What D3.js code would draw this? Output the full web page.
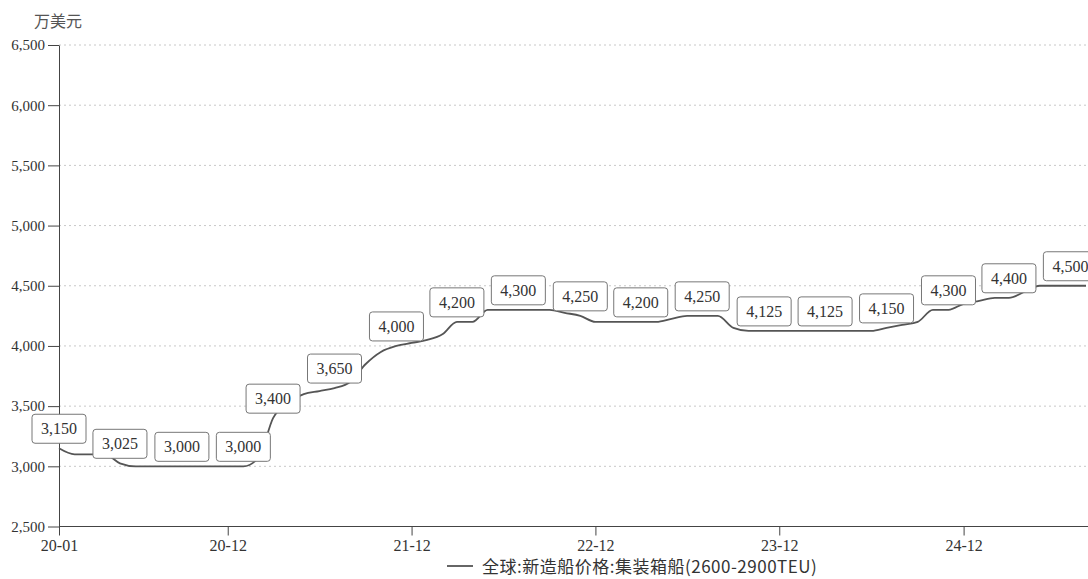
<!DOCTYPE html>
<html>
<head>
<meta charset="utf-8">
<script src="https://cdn.jsdelivr.net/npm/d3@7"></script>
<style>
  html, body { margin: 0; padding: 0; background: #fff; }
  svg { display: block; }
</style>
</head>
<body>
<svg id="chart" width="1088" height="579"></svg>
<script>
// Monthly new-build price, 2600-2900 TEU container ship (10k USD)
const months = [
  "2020-01","2020-02","2020-03","2020-04","2020-05","2020-06","2020-07","2020-08","2020-09","2020-10","2020-11","2020-12",
  "2021-01","2021-02","2021-03","2021-04","2021-05","2021-06","2021-07","2021-08","2021-09","2021-10","2021-11","2021-12",
  "2022-01","2022-02","2022-03","2022-04","2022-05","2022-06","2022-07","2022-08","2022-09","2022-10","2022-11","2022-12",
  "2023-01","2023-02","2023-03","2023-04","2023-05","2023-06","2023-07","2023-08","2023-09","2023-10","2023-11","2023-12",
  "2024-01","2024-02","2024-03","2024-04","2024-05","2024-06","2024-07","2024-08","2024-09","2024-10","2024-11","2024-12",
  "2025-01","2025-02","2025-03","2025-04","2025-05","2025-06","2025-07","2025-08"
];
const prices = [
  3150, 3100, 3100, 3100, 3025, 3000, 3000, 3000, 3000, 3000, 3000, 3000,
  3000, 3075, 3400, 3525, 3600, 3625, 3650, 3700, 3850, 3950, 4000, 4025,
  4050, 4100, 4200, 4200, 4300, 4300, 4300, 4300, 4300, 4275, 4250, 4200,
  4200, 4200, 4200, 4200, 4225, 4250, 4250, 4250, 4150, 4125, 4125, 4125,
  4125, 4125, 4125, 4125, 4125, 4125, 4150, 4175, 4200, 4300, 4300, 4350,
  4375, 4400, 4400, 4450, 4500, 4500, 4500, 4500
];
// Months that carry a value callout
const labelMonths = [
  "2020-01","2020-05","2020-09","2021-01","2021-03","2021-07","2021-11",
  "2022-03","2022-07","2022-11","2023-03","2023-07","2023-11",
  "2024-03","2024-07","2024-11","2025-03","2025-07"
];
const xTickMonths = ["2020-01","2020-12","2021-12","2022-12","2023-12","2024-12"];
const yTicks = [2500, 3000, 3500, 4000, 4500, 5000, 5500, 6000, 6500];
const unitLabel = "万美元";
const seriesName = "全球:新造船价格:集装箱船(2600-2900TEU)";

const parse = d3.timeParse("%Y-%m");
const data = months.map((m, i) => ({ date: parse(m), value: prices[i], key: m }));

const svg = d3.select("#chart");
const W = 1088;
const plotLeft = 59, plotRight = 1086, plotTop = 45, plotBottom = 526.5;

const x = d3.scaleTime()
  .domain([parse(months[0]), parse(months[months.length - 1])])
  .range([plotLeft, plotRight]);
const y = d3.scaleLinear().domain([2500, 6500]).range([plotBottom, plotTop]);

const serif = "'Liberation Serif', 'DejaVu Serif', serif";
const cjk = "'Noto Sans CJK SC', sans-serif";
const axisColor = "#444";

// horizontal dotted grid
svg.append("g")
  .selectAll("line")
  .data(yTicks.filter(v => v > 2500))
  .join("line")
  .attr("x1", plotLeft).attr("x2", W)
  .attr("y1", d => y(d)).attr("y2", d => y(d))
  .attr("stroke", "#c8c8c8")
  .attr("stroke-width", 1)
  .attr("stroke-dasharray", "2,3");

// y axis
const yAxis = svg.append("g")
  .attr("transform", `translate(${plotLeft},0)`)
  .call(d3.axisLeft(y).tickValues(yTicks).tickFormat(d3.format(",")).tickSize(11).tickPadding(3).tickSizeOuter(0));
yAxis.select(".domain").attr("stroke", axisColor);
yAxis.selectAll(".tick line").attr("stroke", axisColor);
yAxis.selectAll("text")
  .style("font-family", serif).style("font-size", "15px").attr("fill", "#333");

// x axis
const xAxis = svg.append("g")
  .attr("transform", `translate(0,${plotBottom})`)
  .call(d3.axisBottom(x).tickValues(xTickMonths.map(parse)).tickFormat(d3.timeFormat("%y-%m")).tickSize(9).tickPadding(4).tickSizeOuter(0));
xAxis.select(".domain").remove();
xAxis.selectAll(".tick line").attr("stroke", axisColor);
xAxis.selectAll("text")
  .style("font-family", serif).style("font-size", "16px").attr("fill", "#333");
svg.append("line")
  .attr("x1", plotLeft).attr("x2", W)
  .attr("y1", plotBottom).attr("y2", plotBottom)
  .attr("stroke", axisColor).attr("stroke-width", 1);

// unit
svg.append("text")
  .attr("x", 58).attr("y", 27)
  .attr("text-anchor", "middle")
  .style("font-family", cjk)
  .style("font-size", "16px")
  .attr("fill", "#555")
  .text(unitLabel);

// price line
const line = d3.line()
  .x(d => x(d.date))
  .y(d => y(d.value))
  .curve(d3.curveMonotoneX);
svg.append("path")
  .datum(data)
  .attr("d", line)
  .attr("fill", "none")
  .attr("stroke", "#555")
  .attr("stroke-width", 1.8);

// value callouts
const boxW = 54, boxH = 29, gap = 5;
const callouts = svg.append("g")
  .selectAll("g")
  .data(data.filter(d => labelMonths.includes(d.key)))
  .join("g")
  .attr("transform", d => `translate(${x(d.date)},${y(d.value) - gap - boxH / 2})`);
callouts.append("rect")
  .attr("x", -boxW / 2).attr("y", -boxH / 2)
  .attr("width", boxW).attr("height", boxH)
  .attr("rx", 3)
  .attr("fill", "#fff")
  .attr("stroke", "#777")
  .attr("stroke-width", 1);
callouts.append("text")
  .attr("text-anchor", "middle")
  .attr("dy", "0.35em")
  .style("font-family", serif)
  .style("font-size", "16px")
  .attr("fill", "#333")
  .text(d => d3.format(",")(d.value));

// legend
const legend = svg.append("g").attr("transform", "translate(447,567)");
legend.append("line")
  .attr("x1", 0).attr("x2", 26).attr("y1", -1).attr("y2", -1)
  .attr("stroke", "#555").attr("stroke-width", 1.8);
legend.append("text")
  .attr("x", 35).attr("y", 0).attr("dy", "0.35em")
  .style("font-family", cjk)
  .style("font-size", "17px")
  .style("letter-spacing", "0.5px")
  .attr("fill", "#333")
  .text(seriesName);
</script>
</body>
</html>
